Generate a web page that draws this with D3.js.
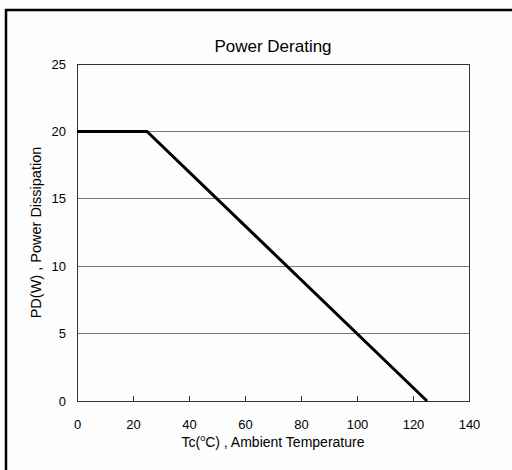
<!DOCTYPE html>
<html><head><meta charset="utf-8">
<script src="https://cdn.jsdelivr.net/npm/d3@7"></script>
<style>body{margin:0;background:#fff}svg{display:block}text{font-family:"Liberation Sans",Arial,sans-serif;fill:#000}</style>
</head><body>
<script>
const tempC = [0, 25, 125];
const powerW = [20, 20, 0];
const xTicks = [0, 20, 40, 60, 80, 100, 120, 140];
const yTicks = [0, 5, 10, 15, 20, 25];

const W = 512, H = 470;
const m = {l: 77, r: 512 - 469, t: 64, b: 470 - 401};
const svg = d3.select("body").append("svg").attr("width", W).attr("height", H);
svg.append("rect").attr("width", W).attr("height", H).attr("fill", "#fdfdfd");
// outer frame
svg.append("rect").attr("x", 6).attr("y", 10).attr("width", W + 20).attr("height", H + 20)
  .attr("fill", "none").attr("stroke", "#000").attr("stroke-width", 2.5);

const x = d3.scaleLinear().domain([0, 140]).range([m.l, W - m.r]);
const y = d3.scaleLinear().domain([0, 25]).range([H - m.b, m.t]);

// grid lines
svg.append("g").selectAll("line").data(yTicks.filter(d => d > 0 && d < 25)).join("line")
  .attr("x1", x(0)).attr("x2", x(140)).attr("y1", d => y(d)).attr("y2", d => y(d))
  .attr("stroke", "#7a7a7a").attr("stroke-width", 1).attr("shape-rendering", "crispEdges");

// plot border
svg.append("rect").attr("x", x(0)).attr("y", y(25)).attr("width", x(140) - x(0)).attr("height", y(0) - y(25))
  .attr("fill", "none").attr("stroke", "#333").attr("stroke-width", 1).attr("shape-rendering", "crispEdges");

// x axis ticks (inside)
const xAxis = d3.axisBottom(x).tickValues(xTicks).tickSize(-5).tickPadding(14).tickFormat(d3.format("d"));
const gx = svg.append("g").attr("transform", `translate(0,${y(0)})`).call(xAxis);
gx.select(".domain").remove();
gx.selectAll(".tick line").attr("stroke", "#333").attr("shape-rendering", "crispEdges");
gx.selectAll("text").attr("font-size", 13).attr("fill", "#000").attr("dy", "0").attr("y", 28);

// y axis labels
const yAxis = d3.axisLeft(y).tickValues(yTicks).tickSize(0).tickPadding(11).tickFormat(d3.format("d"));
const gy = svg.append("g").attr("transform", `translate(${x(0)},0)`).call(yAxis);
gy.select(".domain").remove();
gy.selectAll("text").attr("font-size", 13).attr("fill", "#000");

// data line
const pts = tempC.map((t, i) => [t, powerW[i]]);
svg.append("path").datum(pts)
  .attr("d", d3.line().x(d => x(d[0])).y(d => y(d[1])))
  .attr("fill", "none").attr("stroke", "#000").attr("stroke-width", 3);

// title
svg.append("text").attr("x", (x(0) + x(140)) / 2).attr("y", 52).attr("text-anchor", "middle")
  .attr("font-size", 17).text("Power Derating");

// x title
const xt = svg.append("text").attr("x", (x(0) + x(140)) / 2).attr("y", 447).attr("text-anchor", "middle").attr("font-size", 14);
xt.append("tspan").text("Tc(");
xt.append("tspan").attr("font-size", 9).attr("dy", -6).text("o");
xt.append("tspan").attr("dy", 6).text("C) , Ambient Temperature");

// y title
svg.append("text").attr("transform", `translate(41,${(y(0) + y(25)) / 2}) rotate(-90)`)
  .attr("text-anchor", "middle").attr("font-size", 14.5).text("PD(W) , Power Dissipation");
</script>
</body></html>
